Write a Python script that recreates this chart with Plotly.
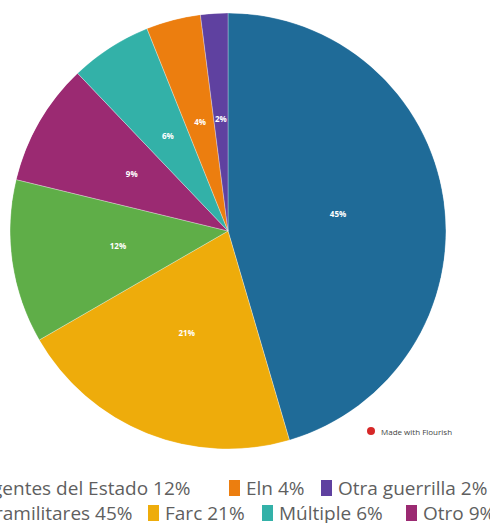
import plotly.graph_objects as go

# slices, clockwise from 12 o'clock
categories = ["Paramilitares", "Farc", "Agentes del Estado", "Otro", "Múltiple", "Eln", "Otra guerrilla"]
values = [45, 21, 12, 9, 6, 4, 2]
colors = ["#1f6b98", "#eeac0b", "#5fae48", "#9b2a72", "#33b1a8", "#ec7e0f", "#5f41a0"]

# legend rows as drawn in the picture (cropped on the left)
legend_rows = [
    ["Agentes del Estado", "Eln", "Otra guerrilla"],
    ["Paramilitares", "Farc", "Múltiple", "Otro"],
]

W, H = 490, 523
pie_x = [10 / W, 446 / W]
pie_y = [1 - 449 / H, 1 - 13 / H]

# angular extent of every slice, in degrees clockwise from the top
total = sum(values)
widths = [v / total * 360 for v in values]
mid_theta = []
acc = 0
for w in widths:
    mid_theta.append(acc + w / 2)
    acc += w

fig = go.Figure()

# the pie, drawn as full-radius wedges on a polar axis
fig.add_trace(go.Barpolar(
    r=[1] * len(values),
    theta=mid_theta,
    width=widths,
    marker=dict(color=colors, line=dict(color="rgba(255,255,255,0.5)", width=0.6)),
    hovertext=[f"{c} {v}%" for c, v in zip(categories, values)],
    hoverinfo="text",
    showlegend=False,
))

# slice labels at about half the radius
fig.add_trace(go.Scatterpolar(
    r=[0.51] * len(values),
    theta=mid_theta,
    mode="text",
    text=[f"{v}%" for v in values],
    textfont=dict(family="Open Sans", size=8, color="white", weight="bold"),
    showlegend=False,
    hoverinfo="skip",
))

# manual legend built from the lists
value_of = dict(zip(categories, values))
color_of = dict(zip(categories, colors))
row_y = [488, 513]
row_box_x = [[-37, 229, 321], [-44, 148, 262, 406]]
shapes = []
annotations = []
for r, row in enumerate(legend_rows):
    y = row_y[r]
    for i, name in enumerate(row):
        bx = row_box_x[r][i]
        shapes.append(dict(
            type="rect", xref="paper", yref="paper",
            x0=bx / W, x1=(bx + 11) / W,
            y0=1 - (y + 8) / H, y1=1 - (y - 8) / H,
            fillcolor=color_of[name], line=dict(width=0),
        ))
        annotations.append(dict(
            text=f"{name} {value_of[name]}%",
            xref="paper", yref="paper",
            x=(bx + 15) / W, y=1 - y / H,
            xanchor="left", yanchor="middle",
            showarrow=False,
            font=dict(family="Open Sans", size=19, color="#5f5f5f"),
        ))

# "Made with Flourish" mark
shapes.append(dict(
    type="circle", xref="paper", yref="paper",
    x0=367 / W, x1=375 / W, y0=1 - 435 / H, y1=1 - 427 / H,
    fillcolor="#d62828", line=dict(width=0),
))
annotations.append(dict(
    text="Made with Flourish", xref="paper", yref="paper",
    x=379 / W, y=1 - 431 / H, xanchor="left", yanchor="middle",
    showarrow=False, font=dict(family="Open Sans", size=8, color="#444444"),
))

fig.update_layout(
    width=W,
    height=H,
    margin=dict(l=0, r=0, t=0, b=0),
    paper_bgcolor="white",
    plot_bgcolor="white",
    polar=dict(
        domain=dict(x=pie_x, y=pie_y),
        bgcolor="rgba(0,0,0,0)",
        bargap=0,
        radialaxis=dict(range=[0, 1], visible=False),
        angularaxis=dict(rotation=90, direction="clockwise", visible=False),
    ),
    shapes=shapes,
    annotations=annotations,
)

fig.write_html(
    "out.html",
    config={"displayModeBar": False},
    post_script="document.body.style.margin='0';",
)
